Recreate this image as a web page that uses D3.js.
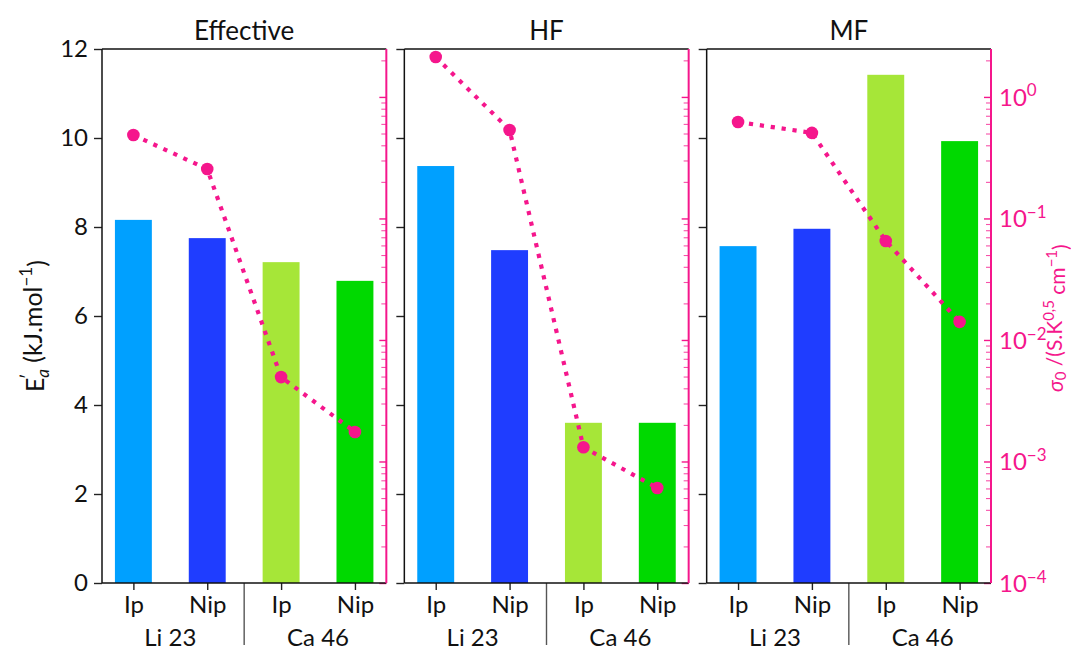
<!DOCTYPE html>
<html><head><meta charset="utf-8">
<script src="https://cdn.jsdelivr.net/npm/d3@7"></script>
<style>body{margin:0;background:#fff} svg{display:block} text{font-family:Lato,"Open Sans",sans-serif}</style>
</head><body><svg id="c" width="1071" height="651"></svg>
<script>
const panels = ["Effective", "HF", "MF"];
const categories = ["Ip", "Nip", "Ip", "Nip"];
const groups = ["Li 23", "Ca 46"];
const barColors = ["#00a0ff", "#1f3dff", "#a6e638", "#00d900"];
const energy = [
  [8.16, 7.75, 7.21, 6.79],
  [9.37, 7.48, 3.6, 3.6],
  [7.57, 7.96, 11.42, 9.93]
];
const sigma0 = [
  [0.486, 0.255, 0.00495, 0.00175],
  [2.13, 0.535, 0.00131, 0.000605],
  [0.622, 0.506, 0.0653, 0.0141]
];
const leftTicks = [0, 2, 4, 6, 8, 10, 12];
const rightTicks = [1e-4, 1e-3, 1e-2, 1e-1, 1];
const rightTickExp = ["\u22124", "\u22123", "\u22122", "\u22121", "0"];

const PINK = "#f5168c";
const svg = d3.select("#c");
const L = 102, R = 991, T = 49, B = 583, gap = 18;
const pw = (R - L - 2 * gap) / 3;
const y = d3.scaleLinear().domain([0, 12]).range([B, T]);
const yr = d3.scaleLog().domain([1e-4, 2.48]).range([B, T]);
const minor = [];
for (let d = -4; d <= 0; d++) for (let k = 2; k <= 9; k++) { const v = k * Math.pow(10, d); if (v < 2.48) minor.push(v); }

panels.forEach((name, i) => {
  const x0 = L + i * (pw + gap);
  const g = svg.append("g").attr("transform", `translate(${x0},0)`);
  const x = d3.scaleLinear().domain([-0.425, 3.425]).range([0, pw]);
  g.selectAll("rect.bar").data(energy[i]).join("rect")
    .attr("x", (d, j) => x(j - 0.25)).attr("width", x(0.5) - x(0))
    .attr("y", d => y(d)).attr("height", d => y(0) - y(d))
    .attr("fill", (d, j) => barColors[j]);
  const la = g.append("g").call(d3.axisLeft(y).tickValues(leftTicks).tickSize(8).tickPadding(6)
      .tickFormat(i === 0 ? d3.format("d") : () => ""));
  la.select(".domain").remove();
  la.selectAll("line").attr("stroke", "#222").attr("stroke-width", 1.4);
  la.selectAll("text").attr("font-size", 24).attr("fill", "#111");
  const rm = g.append("g").attr("transform", `translate(${pw},0)`)
    .call(d3.axisRight(yr).tickValues(minor).tickSizeInner(-5).tickSizeOuter(0).tickFormat(() => ""));
  rm.select(".domain").remove();
  rm.selectAll("line").attr("stroke", PINK).attr("stroke-width", 1.1).attr("opacity", 0.75);
  const ra = g.append("g").attr("transform", `translate(${pw},0)`)
    .call(d3.axisRight(yr).tickValues(rightTicks).tickSizeInner(-7).tickSizeOuter(0).tickPadding(8)
      .tickFormat(() => ""));
  ra.select(".domain").remove();
  ra.selectAll("line").attr("stroke", PINK).attr("stroke-width", 1.4);
  if (i === 2) {
    ra.selectAll(".tick").each(function (d, k) {
      const t = d3.select(this).select("text").text(null).attr("fill", PINK).attr("font-size", 24).attr("dy", "0.35em");
      t.append("tspan").text("10");
      t.append("tspan").attr("font-size", 17).attr("dy", "-0.55em").text(rightTickExp[k]);
    });
  }
  const ba = g.append("g").attr("transform", `translate(0,${B})`)
    .call(d3.axisBottom(x).tickValues([0, 1, 2, 3]).tickSize(7).tickPadding(6).tickFormat((d, j) => categories[j]));
  ba.select(".domain").remove();
  ba.selectAll("line").attr("stroke", "#222").attr("stroke-width", 1.4);
  ba.selectAll("text").attr("font-size", 24).attr("fill", "#111");
  g.append("line").attr("x1", x(1.5)).attr("x2", x(1.5)).attr("y1", B).attr("y2", B + 62)
    .attr("stroke", "#555").attr("stroke-width", 1.4);
  groups.forEach((gname, k) => {
    g.append("text").attr("x", x(0.5 + 2 * k)).attr("y", B + 63).attr("text-anchor", "middle")
      .attr("font-size", 24).attr("fill", "#111").text(gname);
  });
  const line = d3.line().x((d, j) => x(j)).y(d => yr(d));
  g.append("path").datum(sigma0[i]).attr("d", line).attr("fill", "none")
    .attr("stroke", PINK).attr("stroke-width", 4.2).attr("stroke-dasharray", "4.2,6.8");
  g.selectAll("circle").data(sigma0[i]).join("circle")
    .attr("cx", (d, j) => x(j)).attr("cy", d => yr(d)).attr("r", 6.3).attr("fill", PINK);
  g.append("line").attr("x1", 0).attr("x2", pw).attr("y1", T).attr("y2", T).attr("stroke", "#111").attr("stroke-width", 1.5);
  g.append("line").attr("x1", 0).attr("x2", pw).attr("y1", B).attr("y2", B).attr("stroke", "#111").attr("stroke-width", 1.5);
  g.append("line").attr("x1", 0).attr("x2", 0).attr("y1", T).attr("y2", B).attr("stroke", "#111").attr("stroke-width", 1.5);
  g.append("line").attr("x1", pw).attr("x2", pw).attr("y1", T).attr("y2", B).attr("stroke", PINK).attr("stroke-width", 2);
  g.append("text").attr("x", pw / 2).attr("y", 40).attr("text-anchor", "middle")
    .attr("font-size", 26).attr("fill", "#111").text(name);
});

const yl = svg.append("text").attr("transform", `translate(44,${(T + B) / 2 + 10}) rotate(-90)`)
  .attr("text-anchor", "middle").attr("font-size", 25).attr("fill", "#111");
yl.append("tspan").text("E");
yl.append("tspan").attr("font-size", 17).attr("dy", "-0.6em").attr("dx", "-0.1em").text("\u2032");
yl.append("tspan").attr("font-size", 17).attr("font-style", "italic").attr("dy", "0.9em").attr("dx", "-0.25em").text("a");
yl.append("tspan").attr("dy", "-0.3em").text(" (kJ.mol");
yl.append("tspan").attr("font-size", 17).attr("dy", "-0.55em").text("\u22121");
yl.append("tspan").attr("dy", "0.55em").text(")");

const yr2 = svg.append("text").attr("transform", `translate(1063,392) rotate(-90)`)
  .attr("text-anchor", "start").attr("font-size", 21).attr("fill", PINK);
yr2.append("tspan").attr("font-style", "italic").text("\u03C3");
yr2.append("tspan").attr("font-size", 15).attr("dy", "0.2em").text("0");
yr2.append("tspan").attr("dy", "-0.2em").text(" /(S.K");
yr2.append("tspan").attr("font-size", 15).attr("dy", "-0.5em").text("0,5");
yr2.append("tspan").attr("dy", "0.5em").text(" cm");
yr2.append("tspan").attr("font-size", 15).attr("dy", "-0.5em").text("\u22121");
yr2.append("tspan").attr("dy", "0.5em").text(")");
</script></body></html>
